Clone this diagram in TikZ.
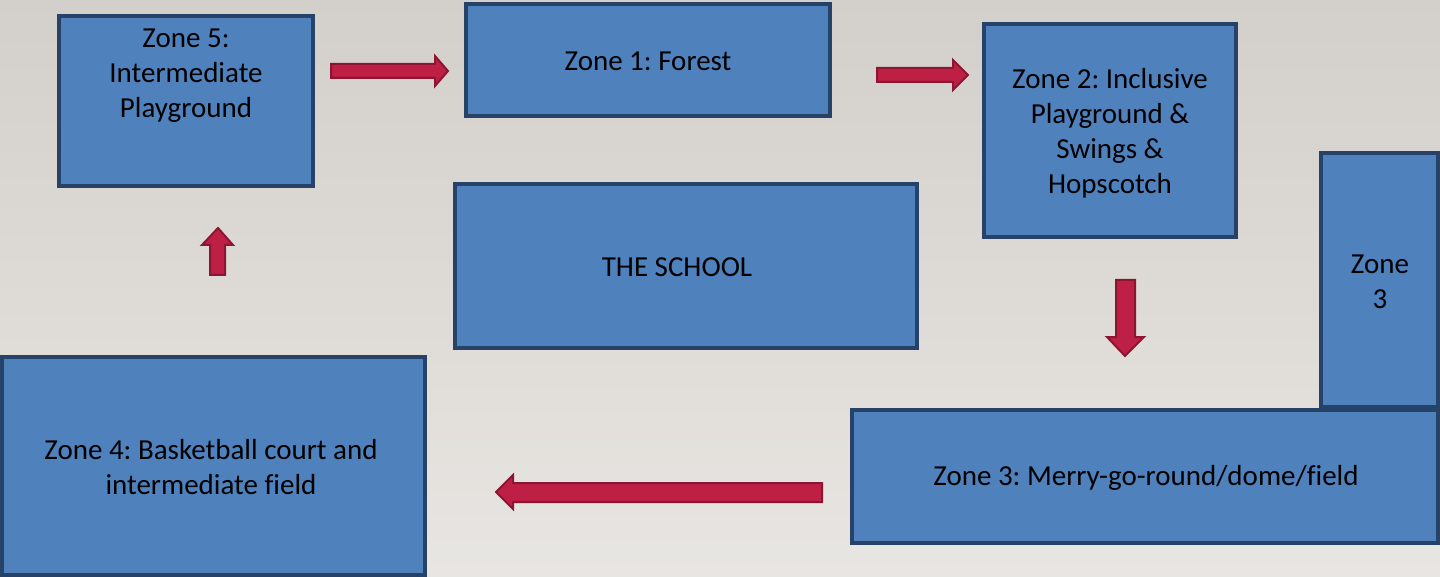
\documentclass[tikz,border=0pt]{standalone}
\usepackage{fontspec}
\setmainfont[Ligatures=NoCommon]{Carlito}
\frenchspacing
\definecolor{bgtop}{HTML}{D3CFCA}
\definecolor{bgbot}{HTML}{E8E6E2}
\definecolor{boxfill}{HTML}{4F81BD}
\definecolor{boxline}{HTML}{264268}
\definecolor{arrfill}{HTML}{BE1F44}
\definecolor{arrline}{HTML}{8C1631}
\begin{document}
\begin{tikzpicture}[x=1pt,y=-1pt,
  zonebox/.style={draw=boxline,fill=boxfill,line width=4pt},
  zonetext/.style={align=center,font=\fontsize{29}{35}\selectfont,text=black,inner sep=0pt},
  blockarrow/.style={draw=arrline,fill=arrfill,line width=2pt,line join=miter}]
\useasboundingbox (0,0) rectangle (1440,577);
\shade[top color=bgtop,bottom color=bgbot] (0,0) rectangle (1440,577);
% boxes
\draw[zonebox] (59,16) rectangle (313,186);
\node[zonetext] (z5) at (186,76) {Zone 5:\\Intermediate\\Playground};
\draw[zonebox] (466,4) rectangle (830,116);
\node[zonetext] (z1) at (648,61) {Zone 1: Forest};
\draw[zonebox] (984,24) rectangle (1236,237);
\node[zonetext] (z2) at (1110,133) {Zone 2: Inclusive\\Playground \&\\Swings \&\\Hopscotch};
\draw[zonebox] (455,184) rectangle (917,348);
\node[zonetext] (school) at (677,267) {THE SCHOOL};
\draw[zonebox] (1321,153) rectangle (1438,407);
\node[zonetext] (z3a) at (1380,282) {Zone\\3};
\draw[zonebox] (852,410) rectangle (1438,543);
\node[zonetext] (z3b) at (1146,478) {Zone 3: Merry-go-round/dome/field};
\draw[zonebox] (2,357) rectangle (425,575);
\node[zonetext] (z4) at (211,467) {Zone 4: Basketball court and\\intermediate field};
% block arrows
\draw[blockarrow] (331,64) -- (435,64) -- (435,56) -- (448,71) -- (435,86) -- (435,78) -- (331,78) -- cycle;
\draw[blockarrow] (877,68) -- (953,68) -- (953,60) -- (968,75) -- (953,90) -- (953,82) -- (877,82) -- cycle;
\draw[blockarrow] (210,275) -- (210,245) -- (202,245) -- (218,228) -- (233,245) -- (225,245) -- (225,275) -- cycle;
\draw[blockarrow] (1116,280) -- (1135,280) -- (1135,337) -- (1144,337) -- (1125,356) -- (1107,337) -- (1116,337) -- cycle;
\draw[blockarrow] (822,483) -- (513,483) -- (513,475) -- (496,492) -- (513,509) -- (513,502) -- (822,502) -- cycle;
\end{tikzpicture}
\end{document}
